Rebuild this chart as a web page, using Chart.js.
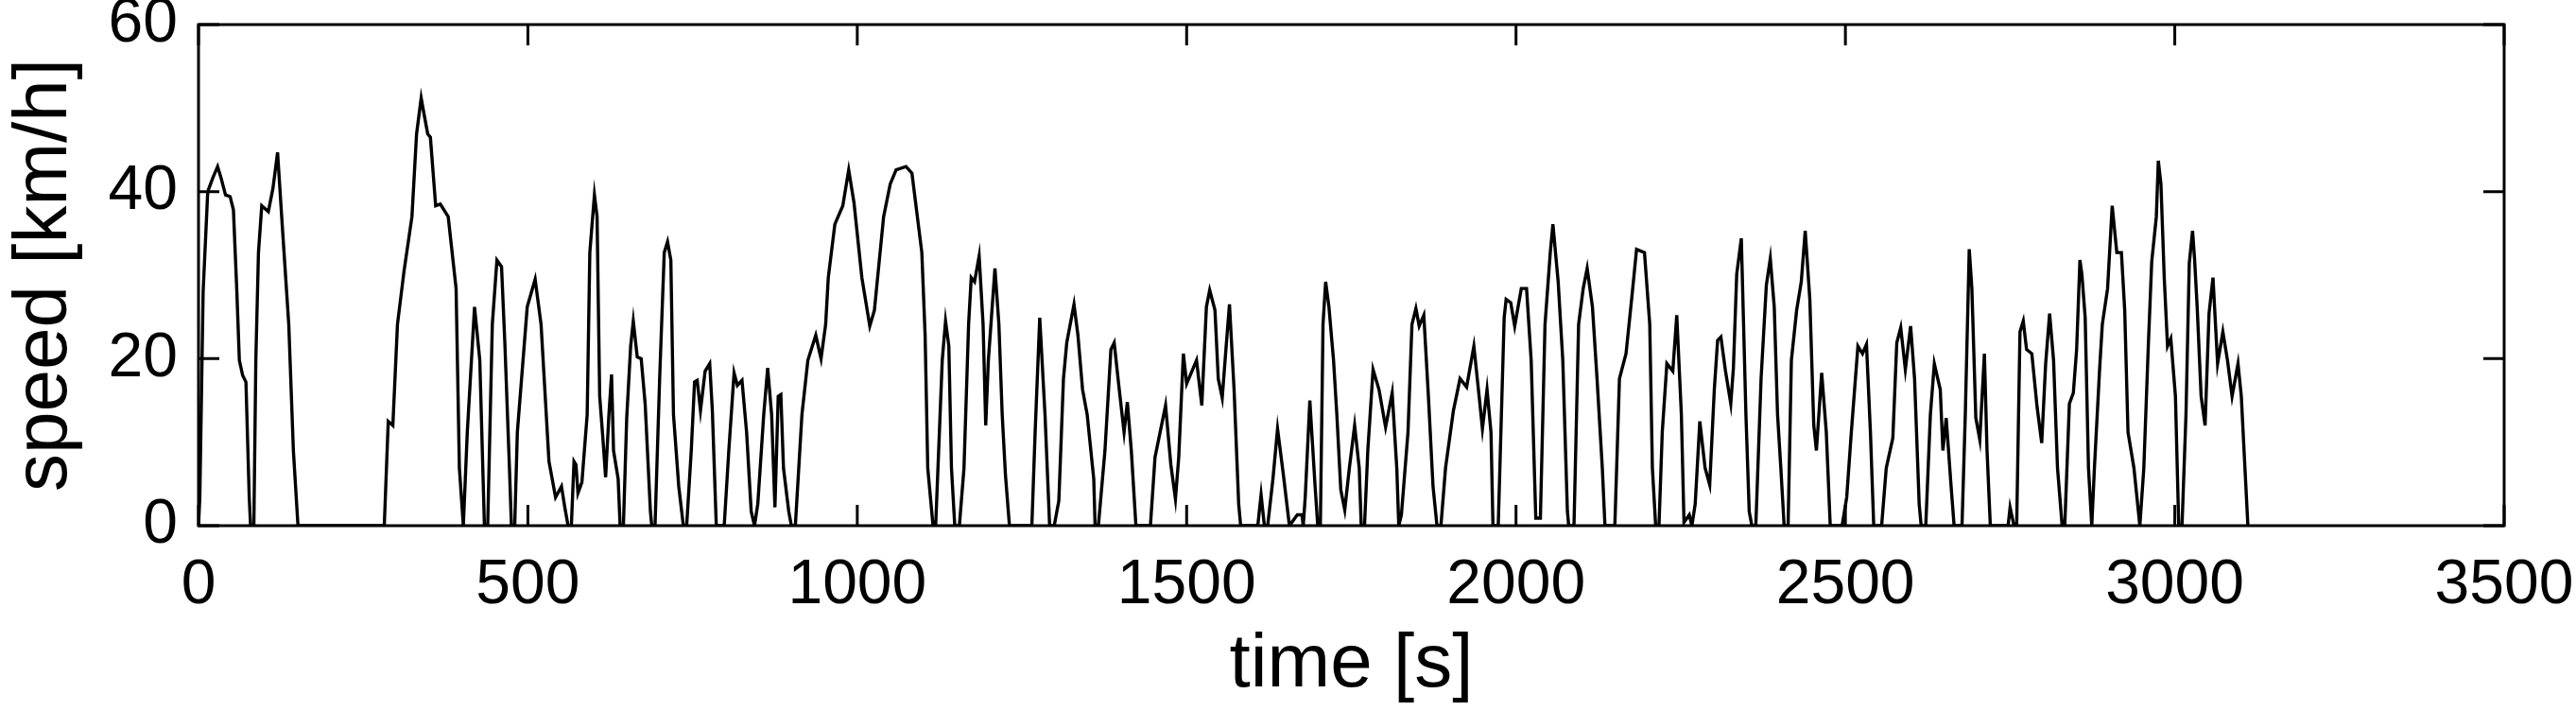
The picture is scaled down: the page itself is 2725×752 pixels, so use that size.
<!DOCTYPE html>
<html><head><meta charset="utf-8">
<script src="https://cdn.jsdelivr.net/npm/chart.js@4"></script>
<style>html,body{margin:0;padding:0;background:#fff}#w{width:2725px;height:752px}</style>
</head><body><div id="w"><canvas id="c"></canvas></div>
<script>
const timeS = [0,2,7,14,22,29,34,41,48,53,58,62,67,72,77,79,84,87,91,96,106,113,120,127,137,144,151,282,288,295,302,312,324,331,338,343,348,352,360,367,379,391,396,402,408,419,427,434,439,446,453,460,465,472,475,480,484,499,511,520,532,
542,551,556,561,566,570,573,576,582,590,594,601,605,609,614,618,623,627,630,637,640,645,650,656,660,666,672,678,686,688,693,700,707,712,717,721,729,736,741,748,753,757,762,769,776,780,786,798,805,813,818,825,832,839,844,849,858,864,870,875,880,884,888,896,900,906,916,925,937,945,952,956,966,978,987,995,1007,1019,1026,1040,1050,1059,1074,1083,1098,1103,1107,
1115,1119,1129,1134,1139,1143,1148,1155,1162,1169,1173,1178,1185,1191,1195,1199,1209,1215,1220,1225,1231,1265,1270,1277,1285,1292,1299,1306,1313,1318,1329,1335,1342,1349,1359,1361,1366,1376,1385,1390,1397,1405,1410,1416,1423,1445,1452,1468,1476,1483,1488,1495,1500,1515,1523,1530,1535,1543,1548,1554,1560,1565,1572,1579,1582,1608,1613,1618,1623,1631,1638,1647,1656,1668,1675,1677,1680,
1687,1695,1699,1703,1707,1711,1716,1723,1728,1734,1740,1747,1755,1762,1765,1770,1775,1783,1792,1802,1812,1819,1822,1826,1836,1842,1848,1853,1860,1867,1874,1880,1886,1893,1905,1915,1925,1936,1944,1949,1956,1962,1965,1973,1982,1985,1992,1998,2008,2016,2023,2030,2037,2044,2052,2056,2064,2071,2078,2080,2088,2095,2102,2108,2116,2123,2131,2135,2150,2157,2167,2176,2183,2195,2203,2207,2212,2217,2222,2229,2238,2244,2251,2255,
2263,2267,2272,2279,2287,2294,2301,2306,2311,2318,2326,2330,2335,2342,2349,2354,2358,2364,2372,2380,2386,2392,2397,2402,2407,2413,2418,2426,2433,2439,2446,2452,2456,2464,2471,2477,2495,2502,2509,2519,2526,2532,2538,2543,2555,2562,2572,2578,2584,2591,2599,2605,2612,2615,2622,2629,2635,2644,2648,2653,2660,2665,2677,2682,2688,2692,2698,2704,2711,2715,2720,2747,2750,2756,2760,2765,2770,2775,2783,2791,2798,2804,2810,2816,2822,2829,
2833,2840,2846,2851,2856,2859,2864,2869,2874,2878,2886,2890,2898,2905,2912,2919,2924,2929,2938,2947,2953,2960,2965,2972,2975,2979,2984,2989,2994,3001,3006,3011,3017,3022,3027,3030,3034,3040,3046,3052,3058,3065,3073,3080,3087,3096,3101,3106,3111];
const speedKmh = [0,3.4,28,40,41.7,43,41.7,39.6,39.4,37.8,28.4,19.8,18,17.2,3.4,0,0,19.8,32.7,38.3,37.6,40.4,44.7,36.1,24.1,9,0,0,12.5,12,24.1,30.5,37,46.9,51.2,49,46.9,46.5,38.3,38.5,37,28.4,6.9,0,11.2,26.2,19.8,0,0,24.1,31.8,31,21.9,6.9,0,0,11.2,26.2,29.5,24.1,7.7,
3.4,4.7,2.2,0,0,7.7,7.3,3.9,5.2,13.3,32.7,39.6,37,15.5,10.3,5.8,13.3,18.1,9,5.6,0,0,12.9,21.5,24.5,20.2,20,14.6,1.7,0,0,17.6,32.7,34,31.8,13.3,4.7,0,0,9,17.2,17.4,13.8,18.5,19.4,13.8,0,0,9,18.3,16.8,17.4,11.2,1.7,0,2.6,13.3,18.9,13.3,2.2,15.5,15.7,6.9,1.7,0,0,13.3,19.8,22.8,20,24.1,29.7,36.1,38.3,42.6,38.7,29.7,23.9,25.8,37,40.9,42.6,43,42.2,32.7,22.8,6.9,
0,0,19.8,24.5,21.5,6.9,0,0,6.9,24.1,29.7,29.2,32.3,24.1,12,19.8,30.8,24.1,13.3,6,0,0,11.2,24.9,13.3,0,0,3,17.6,21.9,26.5,22.8,16.3,13.3,5.6,0,0,9,21.1,21.9,16.8,11.2,14.8,9,0,0,8.2,14.4,7.3,3.2,8.2,20.6,17,19.8,14.4,26.2,28.2,25.8,17.6,15.3,21.5,26.5,16.3,2.6,0,0,3.7,0,0,5.6,11.6,6,0,1.3,1.3,0,3.4,
15,4.7,0,0,24.1,29.2,26.2,19.8,13.3,4.3,1.9,6.9,12,6.9,0,0,9,18.7,16.3,11.8,15.9,6.9,0,1.3,11.2,24.1,26,23.9,25.2,15.5,4.7,0,0,6.9,13.8,17.6,16.6,21.5,15.5,11.6,16.3,11.2,0,0,24.9,27.1,26.7,23.9,28.4,28.4,19.8,0.9,0.9,24.1,32.7,36.1,29.2,19.8,1.7,0,0,24.1,28.4,30.8,26.2,17.6,6.9,0,0,17.6,20.6,27.5,33.1,32.7,24.1,6.9,0,0,11.2,19.4,18.5,25.2,13.3,0.4,
1.3,0,2.6,12.5,6.9,4.9,16.3,22.2,22.6,18.5,14.6,18.9,30.1,34.4,13.3,1.7,0,0,17.6,28.8,32,26.2,13.3,6.9,0,0,19.8,25.8,29.2,35.3,27.1,12,9,18.3,11.2,0,0,3.4,11.2,21.5,20.6,21.7,11.2,0,0,6.9,10.5,21.9,23.7,18.7,23.9,17.6,2.6,0,0,13.3,19.4,16.3,9,12.9,5.2,0,0,13.3,33.1,28.4,12.9,10.3,20.6,9,0,0,2.2,0,0,23.2,24.5,21.1,20.6,14.2,9.9,19.4,25.4,19.8,6.9,0,
0,14.6,15.9,21.1,31.8,30.1,24.9,6.9,0,6.9,18.9,24.1,28.4,38.3,32.7,32.7,25.8,11.2,6.9,0,6.9,21.9,31.6,37,43.7,40.9,29.7,21.5,22.4,15.5,0,0,13.3,31.4,35.3,32,26.2,15.5,12,25.4,29.7,19.4,23.2,19.8,15.5,19.4,15.5,7.7,0];
const xTicks = [0,500,1000,1500,2000,2500,3000,3500];
const yTicks = [0,20,40,60];

const pts = timeS.map((t,i)=>({x:t,y:speedKmh[i]}));
const FONT = "'Liberation Sans', Arial, sans-serif";

const frame = {
  id:'frame',
  afterDraw(ch){
    const {ctx, chartArea:a, scales:{x,y}} = ch;
    ctx.save();
    ctx.strokeStyle='#000'; ctx.lineWidth=3;
    ctx.strokeRect(a.left,a.top,a.right-a.left,a.bottom-a.top);
    const L=22;
    ctx.beginPath();
    xTicks.forEach(v=>{const p=x.getPixelForValue(v);
      ctx.moveTo(p,a.bottom);ctx.lineTo(p,a.bottom-L);
      ctx.moveTo(p,a.top);ctx.lineTo(p,a.top+L);});
    yTicks.forEach(v=>{const p=y.getPixelForValue(v);
      ctx.moveTo(a.left,p);ctx.lineTo(a.left+L,p);
      ctx.moveTo(a.right,p);ctx.lineTo(a.right-L,p);});
    ctx.stroke();
    ctx.restore();
  }
};

new Chart(document.getElementById('c'),{
  type:'scatter',
  data:{datasets:[{data:pts,showLine:true,borderColor:'#000',borderWidth:3.4,pointRadius:0,tension:0,fill:false}]},
  options:{
    responsive:true,maintainAspectRatio:false,animation:false,
    layout:{padding:{top:26,right:76,left:0,bottom:0}},
    plugins:{legend:{display:false},tooltip:{enabled:false}},
    scales:{
      x:{type:'linear',min:0,max:3500,
        afterBuildTicks(s){s.ticks=xTicks.map(v=>({value:v}));},
        afterFit(s){s.height=196;s.paddingLeft=0;s.paddingRight=0;},
        grid:{display:false,drawTicks:false},border:{display:false},
        ticks:{color:'#000',padding:24,maxRotation:0,callback:v=>String(v),font:{family:FONT,size:66}},
        title:{display:true,text:'time [s]',color:'#000',padding:{top:0,bottom:0},font:{family:FONT,size:80}}},
      y:{type:'linear',min:0,max:60,
        afterBuildTicks(s){s.ticks=yTicks.map(v=>({value:v}));},
        afterFit(s){s.width=210;s.paddingTop=0;s.paddingBottom=0;},
        grid:{display:false,drawTicks:false},border:{display:false},
        ticks:{color:'#000',padding:22,callback:v=>String(v),font:{family:FONT,size:66}},
        title:{display:true,text:'speed [km/h]',color:'#000',padding:{top:0,bottom:0},font:{family:FONT,size:80}}}
    }
  },
  plugins:[frame]
});
</script></body></html>
